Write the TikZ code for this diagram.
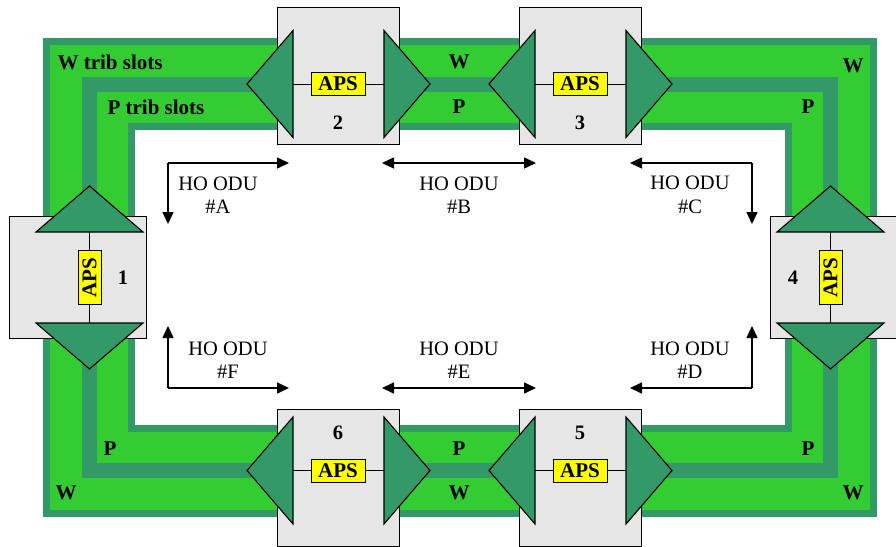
\documentclass[tikz,border=0pt]{standalone}
\usepackage{fontspec}
\setmainfont{Liberation Serif}
\usetikzlibrary{arrows.meta}
\definecolor{lg}{HTML}{33CC33}
\definecolor{dg}{HTML}{339966}
\definecolor{bx}{HTML}{E6E6E6}
\definecolor{ap}{HTML}{FFFF00}
\begin{document}
\begin{tikzpicture}[x=1pt,y=-1pt,
  nodebox/.style={draw=black,line width=1pt,fill=bx,inner sep=0pt},
  hbox/.style={nodebox,minimum width=122pt,minimum height=137pt},
  vbox/.style={nodebox,minimum width=137pt,minimum height=122pt},
  tri/.style={draw=black,line width=1.1pt,fill=dg,line join=miter},
  aps/.style={draw=black,line width=1pt,fill=ap,inner sep=0pt,minimum width=54pt,minimum height=23pt,font=\fontsize{21}{21}\selectfont\bfseries},
  num/.style={font=\fontsize{20.5}{20.5}\selectfont\bfseries},
  lbl/.style={font=\fontsize{21}{21}\selectfont\bfseries},
  odu/.style={font=\fontsize{20.5}{23.5}\selectfont,align=center},
  link/.style={line width=1pt},
  arr/.style={line width=1.5pt,-{Triangle[length=12pt,width=11pt]}},
  darr/.style={line width=1.5pt,{Triangle[length=12pt,width=11pt]}-{Triangle[length=12pt,width=11pt]}}
]
\useasboundingbox (0,0) rectangle (896,546);
\clip (0,0) rectangle (896,546);
\fill[white] (0,0) rectangle (896,546);
% ring
\fill[dg] (43,38) rectangle (877,517);
\fill[lg] (50,45) rectangle (870,510);
\fill[dg] (82,77) rectangle (838,478);
\fill[lg] (97,92) rectangle (823,463);
\fill[dg] (128,123) rectangle (792,432);
\fill[white] (135,130) rectangle (785,425);
% ring labels
\node[lbl,anchor=west] (wts) at (54,62) {W trib slots};
\node[lbl,anchor=west] (pts) at (104,107) {P trib slots};
\node[lbl] (wt) at (459,62) {W};
\node[lbl] (pt) at (459,107) {P};
\node[lbl] (wtr) at (853,66) {W};
\node[lbl] (ptr) at (808,107) {P};
\node[lbl] (pbl) at (110,449) {P};
\node[lbl] (wbl) at (66,493) {W};
\node[lbl] (pb) at (459,449) {P};
\node[lbl] (wb) at (459,493) {W};
\node[lbl] (pbr) at (808,449) {P};
\node[lbl] (wbr) at (853,493) {W};
% node 2
\node[hbox] (n2) at (338,75.5) {};
\coordinate (n2l) at (293,84); \coordinate (n2r) at (384,84);
\draw[link] (n2l) -- (n2r);
\draw[tri] (293,30.5) -- (247,84) -- (293,137.5) -- cycle;
\draw[tri] (384,30.5) -- (430,84) -- (384,137.5) -- cycle;
\node[aps] (a2) at (338,84) {APS};
\node[num] (l2) at (338,123) {2};
% node 3
\node[hbox] (n3) at (580,75.5) {};
\coordinate (n3l) at (535,84); \coordinate (n3r) at (626,84);
\draw[link] (n3l) -- (n3r);
\draw[tri] (535,30.5) -- (489,84) -- (535,137.5) -- cycle;
\draw[tri] (626,30.5) -- (672,84) -- (626,137.5) -- cycle;
\node[aps] (a3) at (580,84) {APS};
\node[num] (l3) at (580,123) {3};
% node 6
\node[hbox] (n6) at (338,477.5) {};
\coordinate (n6l) at (293,470.5); \coordinate (n6r) at (384,470.5);
\draw[link] (n6l) -- (n6r);
\draw[tri] (293,417) -- (247,470.5) -- (293,524) -- cycle;
\draw[tri] (384,417) -- (430,470.5) -- (384,524) -- cycle;
\node[aps] (a6) at (338,470.5) {APS};
\node[num] (l6) at (338,433) {6};
% node 5
\node[hbox] (n5) at (580,477.5) {};
\coordinate (n5l) at (535,470.5); \coordinate (n5r) at (626,470.5);
\draw[link] (n5l) -- (n5r);
\draw[tri] (535,417) -- (489,470.5) -- (535,524) -- cycle;
\draw[tri] (626,417) -- (672,470.5) -- (626,524) -- cycle;
\node[aps] (a5) at (580,470.5) {APS};
\node[num] (l5) at (580,433) {5};
% node 1
\node[vbox] (n1) at (77.5,277) {};
\coordinate (n1t) at (89.5,232); \coordinate (n1b) at (89.5,323);
\draw[link] (n1t) -- (n1b);
\draw[tri] (36,232) -- (89.5,186) -- (143,232) -- cycle;
\draw[tri] (36,323) -- (89.5,369) -- (143,323) -- cycle;
\node[aps,rotate=90] (a1) at (89.5,277.5) {APS};
\node[num] (l1) at (123,278) {1};
% node 4
\node[vbox] (n4) at (838.5,277) {};
\coordinate (n4t) at (830.5,232); \coordinate (n4b) at (830.5,323);
\draw[link] (n4t) -- (n4b);
\draw[tri] (777,232) -- (830.5,186) -- (884,232) -- cycle;
\draw[tri] (777,323) -- (830.5,369) -- (884,323) -- cycle;
\node[aps,rotate=90] (a4) at (830.5,277.5) {APS};
\node[num] (l4) at (793,278) {4};
% HO ODU arrows
\coordinate (aC) at (168,163); \coordinate (aR) at (289,163); \coordinate (aD) at (168,224);
\draw[arr] (aC) -- (aR);
\draw[arr] (aC) -- (aD);
\node[odu] (tA) at (218,195) {HO ODU\\\#A};
\coordinate (bL) at (382,163); \coordinate (bR) at (536,163);
\draw[darr] (bL) -- (bR);
\node[odu] (tB) at (459,195) {HO ODU\\\#B};
\coordinate (cC) at (752,163); \coordinate (cL) at (630,163); \coordinate (cD) at (752,224);
\draw[arr] (cC) -- (cL);
\draw[arr] (cC) -- (cD);
\node[odu] (tC) at (690,195) {HO ODU\\\#C};
\coordinate (fC) at (168,388); \coordinate (fU) at (168,326); \coordinate (fR) at (289,388);
\draw[arr] (fC) -- (fU);
\draw[arr] (fC) -- (fR);
\node[odu] (tF) at (228,360) {HO ODU\\\#F};
\coordinate (eL) at (382,388); \coordinate (eR) at (536,388);
\draw[darr] (eL) -- (eR);
\node[odu] (tE) at (459,360) {HO ODU\\\#E};
\coordinate (dC) at (752,388); \coordinate (dU) at (752,326); \coordinate (dL) at (630,388);
\draw[arr] (dC) -- (dU);
\draw[arr] (dC) -- (dL);
\node[odu] (tD) at (690,360) {HO ODU\\\#D};
\end{tikzpicture}
\end{document}
